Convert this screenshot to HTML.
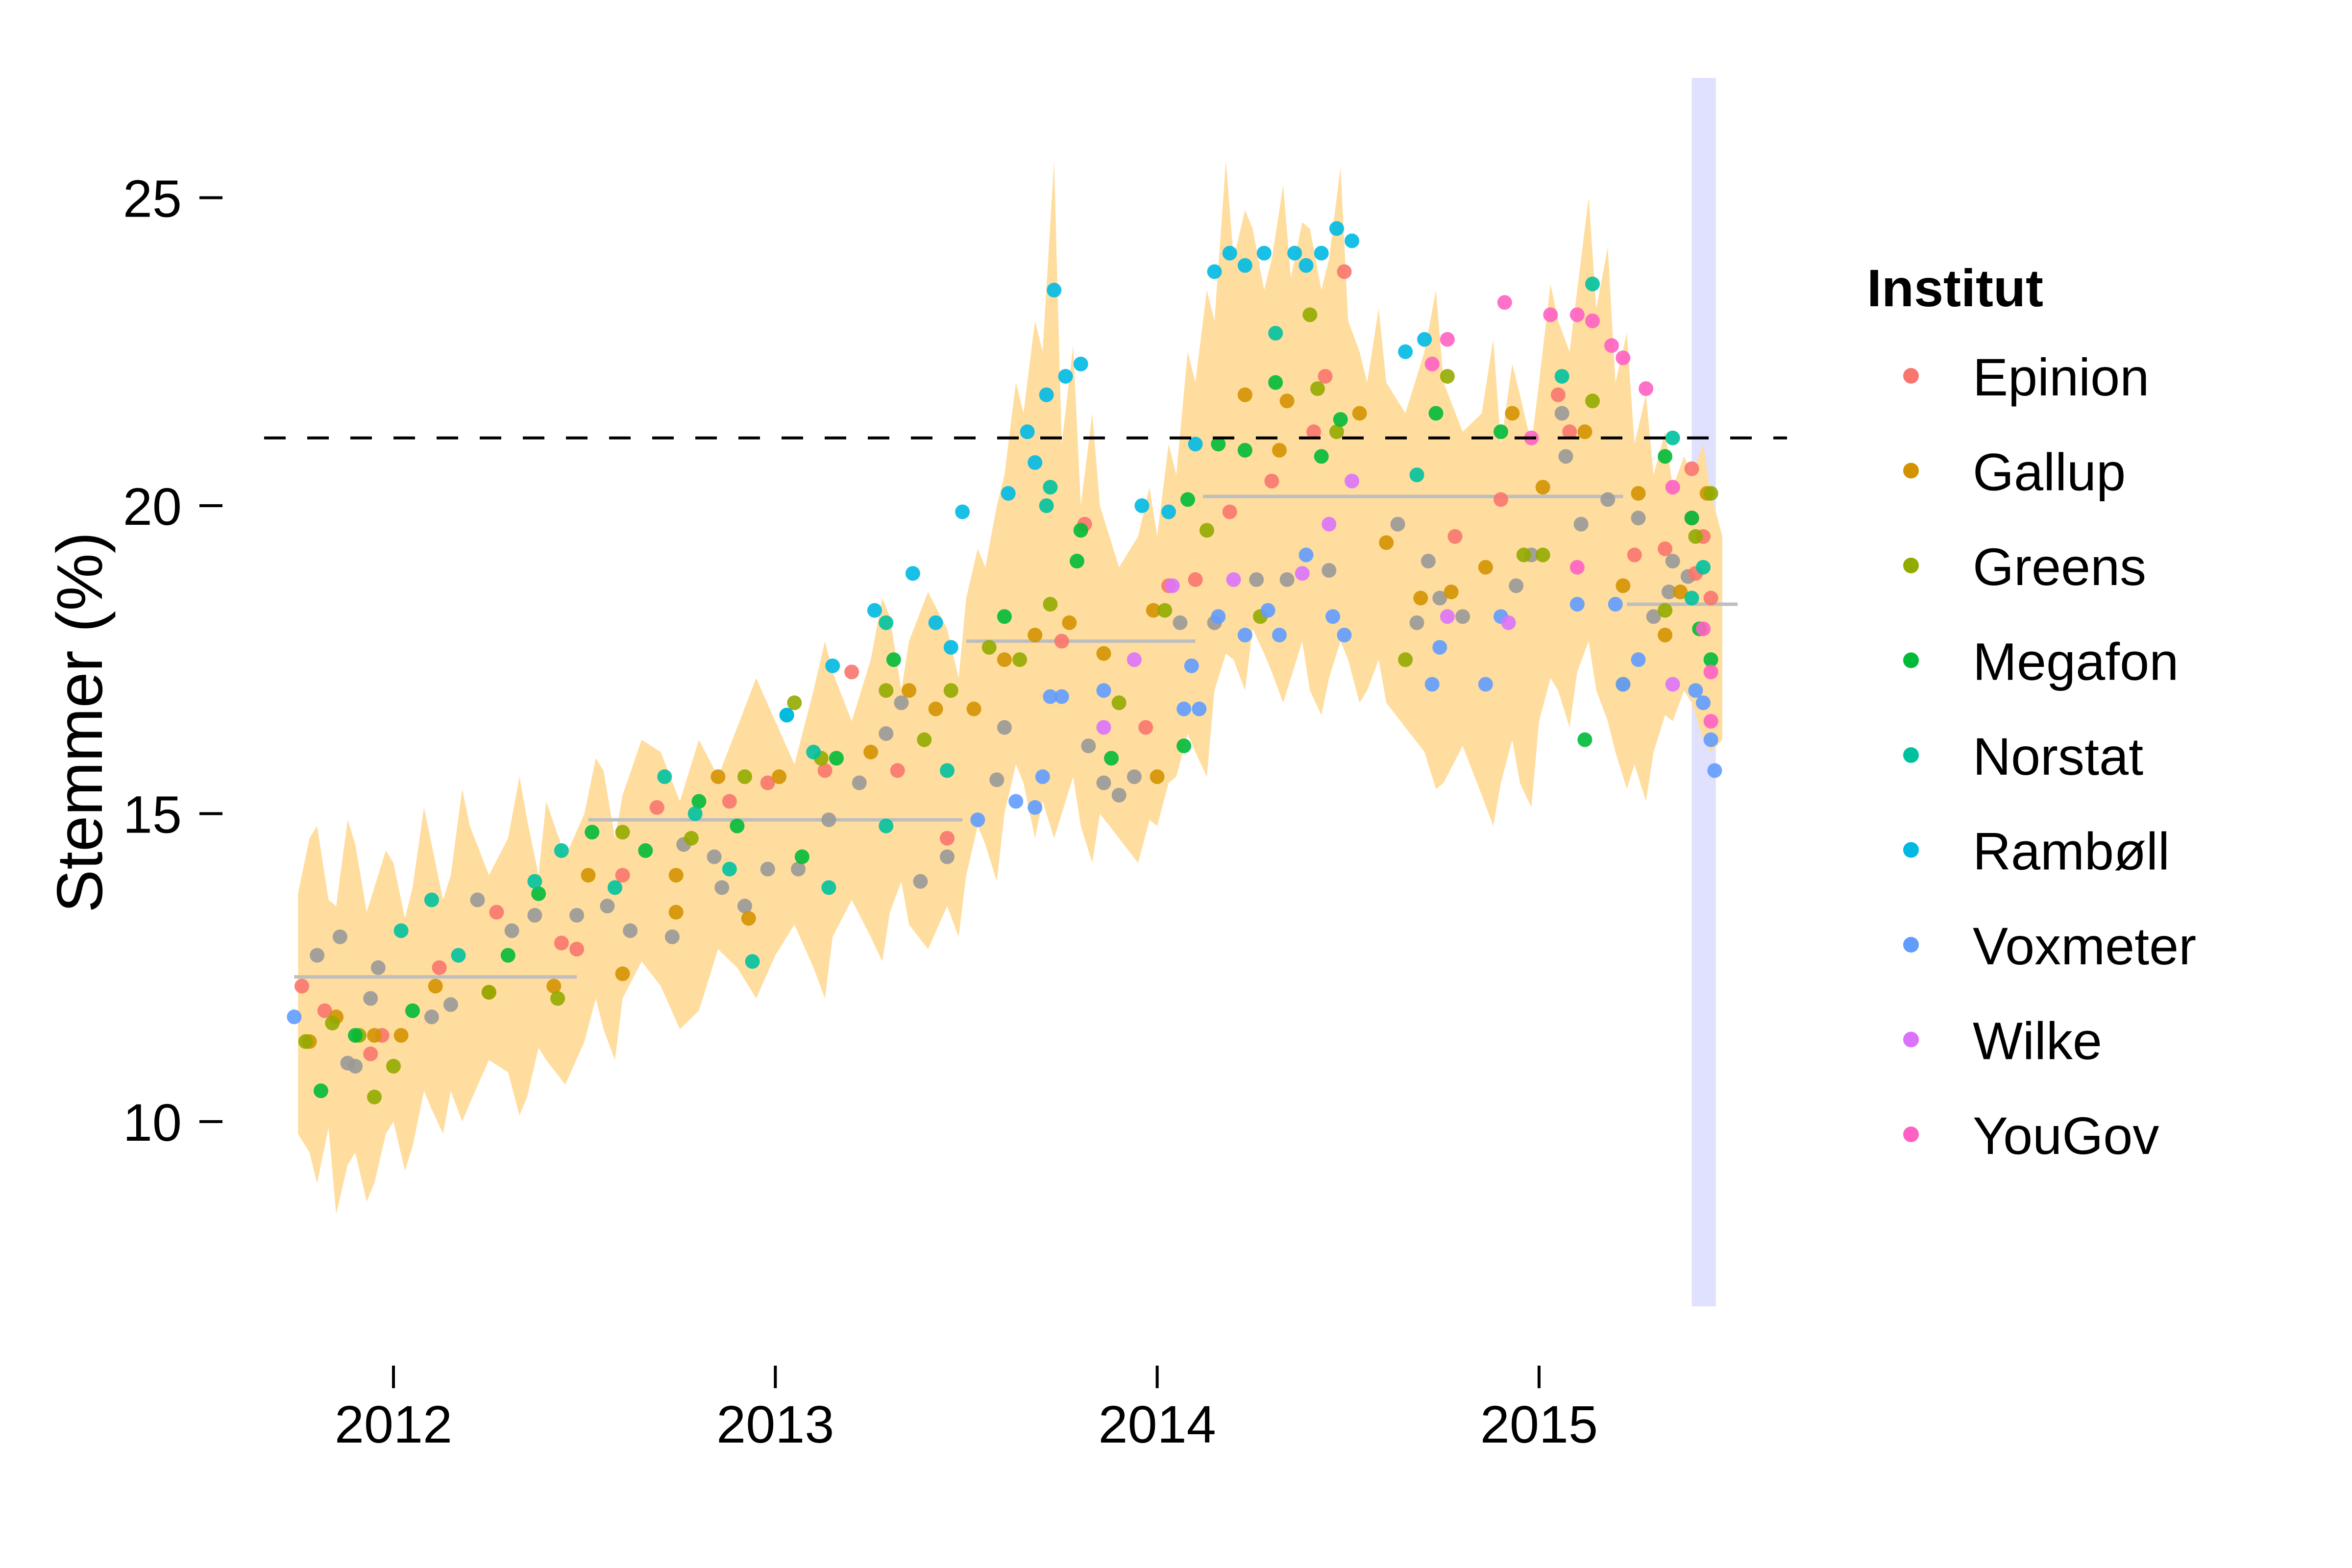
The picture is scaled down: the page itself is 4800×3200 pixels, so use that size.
<!DOCTYPE html>
<html><head><meta charset="utf-8"><style>
html,body{margin:0;padding:0;background:#fff}
svg{display:block;font-family:"Liberation Sans",Arial,sans-serif}
</style></head><body>
<svg id="chart" width="4800" height="3200" viewBox="0 0 4800 3200">
<rect width="4800" height="3200" fill="#fff"/>
<g id="gBand"></g><g id="gRibbon"></g><g id="gSeg"></g><g id="gPts"></g><g id="gRef"></g><g id="gAxes"></g><g id="gLegend"></g>
</svg>
<script>
const ribbonYears=[2011.75,2011.78,2011.8,2011.83,2011.85,2011.88,2011.9,2011.93,2011.95,2011.98,2012.0,2012.03,2012.05,2012.08,2012.1,2012.13,2012.15,2012.18,2012.2,2012.25,2012.3,2012.33,2012.35,2012.38,2012.4,2012.45,2012.5,2012.53,2012.55,2012.58,2012.6,2012.65,2012.7,2012.75,2012.8,2012.85,2012.9,2012.95,2013.0,2013.05,2013.1,2013.13,2013.15,2013.2,2013.25,2013.28,2013.3,2013.33,2013.35,2013.4,2013.45,2013.48,2013.5,2013.53,2013.55,2013.58,2013.6,2013.63,2013.65,2013.68,2013.7,2013.73,2013.75,2013.78,2013.8,2013.83,2013.85,2013.9,2013.95,2013.98,2014.0,2014.03,2014.05,2014.08,2014.1,2014.13,2014.15,2014.18,2014.2,2014.23,2014.25,2014.28,2014.3,2014.33,2014.35,2014.38,2014.4,2014.43,2014.45,2014.48,2014.5,2014.53,2014.55,2014.58,2014.6,2014.65,2014.7,2014.73,2014.75,2014.8,2014.85,2014.88,2014.9,2014.93,2014.95,2014.98,2015.0,2015.03,2015.05,2015.08,2015.1,2015.13,2015.15,2015.18,2015.2,2015.23,2015.25,2015.28,2015.3,2015.33,2015.35,2015.38,2015.4,2015.43,2015.45,2015.48];
const ribbonUpper=[13.7,14.6,14.8,13.6,13.5,14.9,14.5,13.4,13.8,14.4,14.2,13.3,13.8,15.1,14.5,13.6,14.0,15.4,14.8,14.0,14.6,15.6,14.9,14.0,15.2,14.3,15.0,15.9,15.7,14.6,15.3,16.2,16.0,15.2,16.2,15.6,16.4,17.2,16.5,15.8,17.0,17.8,17.3,16.5,17.5,18.5,18.2,17.0,17.8,18.6,18.0,17.2,18.5,19.3,19.0,20.0,20.5,22.0,21.5,23.0,22.5,25.6,21.0,22.6,20.0,21.5,20.0,19.0,19.5,20.3,19.5,21.0,20.5,22.5,22.0,23.5,23.0,25.6,24.0,24.8,24.5,23.5,24.0,25.2,23.7,24.6,24.5,23.5,24.0,25.5,23.0,22.5,22.0,23.2,22.0,21.5,22.5,23.5,22.0,21.2,21.5,22.7,21.0,22.3,21.8,21.0,22.0,23.6,23.0,22.5,23.5,25.0,23.2,24.2,22.0,22.8,21.0,21.8,20.5,21.2,20.3,20.8,20.5,21.0,20.2,19.5];
const ribbonLower=[9.8,9.5,9.0,9.9,8.5,9.3,9.5,8.7,9.0,9.8,10.0,9.2,9.6,10.5,10.2,9.8,10.5,10.0,10.3,11.0,10.8,10.1,10.4,11.2,11.0,10.6,11.3,12.0,11.5,11.0,12.0,12.6,12.2,11.5,11.8,12.8,12.5,12.0,12.7,13.2,12.5,12.0,13.0,13.6,13.0,12.6,13.4,13.9,13.2,12.8,13.5,13.0,14.0,14.8,14.5,13.9,15.0,15.8,15.5,14.6,15.2,14.6,15.0,15.6,14.8,14.2,15.0,14.6,14.2,14.9,14.8,15.5,15.6,16.3,16.0,15.6,17.0,17.6,17.5,17.0,18.0,17.6,17.3,16.8,17.2,17.8,17.0,16.6,17.2,17.8,17.5,16.8,17.0,17.5,16.8,16.4,16.0,15.4,15.5,16.1,15.3,14.8,15.5,16.2,15.5,15.1,16.5,17.2,17.0,16.4,17.3,17.8,17.0,16.5,16.0,15.4,15.8,15.2,16.0,16.6,16.5,17.0,16.8,16.2,16.0,16.2];
const segStart=[2011.74,2012.51,2013.5,2014.12,2015.23];
const segEnd=[2012.48,2013.49,2014.1,2015.22,2015.52];
const segValue=[12.35,14.9,17.8,20.15,18.4];
const refValue=21.1;
const bandStart=2015.40;
const bandEnd=2015.463;
const yTicks=[10,15,20,25];
const xTicks=[2012,2013,2014,2015];
const institutes=["Epinion","Gallup","Greens","Megafon","Norstat","Rambøll","Voxmeter","Wilke","YouGov"];
const colors=["#F8766D","#D39200","#93AA00","#00BA38","#00C19F","#00B9E3","#619CFF","#DB72FB","#FF61C3"];
const epinionX=[2011.76,2011.82,2011.94,2011.97,2012.12,2012.27,2012.44,2012.48,2012.60,2012.69,2012.88,2012.98,2013.13,2013.20,2013.32,2013.45,2013.75,2013.81,2013.97,2014.03,2014.10,2014.19,2014.30,2014.41,2014.44,2014.49,2014.78,2014.90,2015.05,2015.08,2015.25,2015.33,2015.40,2015.41,2015.40,2015.43,2015.45];
const epinionY=[12.2,11.8,11.1,11.4,12.5,13.4,12.9,12.8,14.0,15.1,15.2,15.5,15.7,17.3,15.7,14.6,17.8,19.7,16.4,18.7,18.8,19.9,20.4,21.2,22.1,23.8,19.5,20.1,21.8,21.2,19.2,19.3,20.6,18.9,19.8,19.5,18.5];
const gallupX=[2011.78,2011.85,2011.95,2012.02,2012.11,2012.25,2012.42,2012.51,2012.60,2012.74,2012.85,2012.74,2012.93,2013.01,2013.25,2013.35,2013.42,2013.52,2013.60,2013.68,2013.77,2013.86,2014.00,2013.99,2014.23,2014.32,2014.34,2014.53,2014.60,2014.69,2014.77,2014.86,2014.93,2015.01,2015.12,2015.22,2015.26,2015.33,2015.37,2015.44];
const gallupY=[11.3,11.7,11.4,11.4,12.2,12.1,12.2,14.0,12.4,14.0,15.6,13.4,13.3,15.6,16.0,17.0,16.7,16.7,17.5,17.9,18.1,17.6,15.6,18.3,21.8,20.9,21.7,21.5,19.4,18.5,18.6,19.0,21.5,20.3,21.2,18.7,20.2,17.9,18.6,20.2];
const greensX=[2011.77,2011.84,2011.91,2011.95,2012.0,2012.25,2012.43,2012.60,2012.78,2012.92,2013.05,2013.12,2013.29,2013.39,2013.46,2013.56,2013.64,2013.72,2013.90,2014.02,2014.13,2014.27,2014.40,2014.42,2014.47,2014.65,2014.76,2014.96,2015.01,2015.14,2015.22,2015.33,2015.45,2015.41];
const greensY=[11.3,11.6,11.4,10.4,10.9,12.1,12.0,14.7,14.6,15.6,16.8,15.9,17.0,16.2,17.0,17.7,17.5,18.4,16.8,18.3,19.6,18.2,23.1,21.9,21.2,17.5,22.1,19.2,19.2,21.7,17.1,18.3,20.2,19.5];
const megafonX=[2011.81,2011.90,2012.05,2012.30,2012.38,2012.52,2012.66,2012.80,2012.90,2013.07,2013.16,2013.31,2013.60,2013.79,2013.80,2013.88,2014.07,2014.08,2014.16,2014.23,2014.31,2014.43,2014.48,2014.73,2014.90,2015.12,2015.33,2015.40,2015.42,2015.45];
const megafonY=[10.5,11.4,11.8,12.7,13.7,14.7,14.4,15.2,14.8,14.3,15.9,17.5,18.2,19.1,19.6,15.9,16.1,20.1,21.0,20.9,22.0,20.8,21.4,21.5,21.2,16.2,20.8,19.8,18.0,17.5];
const norstatX=[2012.02,2012.10,2012.17,2012.44,2012.37,2012.58,2012.71,2012.79,2012.88,2012.94,2013.03,2013.10,2013.14,2013.29,2013.29,2013.45,2013.71,2013.72,2014.31,2014.68,2015.06,2015.14,2015.35,2015.43,2015.40];
const norstatY=[13.1,13.6,12.7,14.4,13.9,13.8,15.6,15.0,14.1,12.6,16.6,16.0,13.8,18.1,14.8,15.7,20.0,20.3,22.8,20.5,22.1,23.6,21.1,19.0,18.5];
const ramboellX=[2013.66,2013.68,2013.71,2013.73,2013.76,2013.80,2013.49,2013.36,2013.42,2013.46,2013.26,2013.15,2013.03,2013.61,2013.96,2014.03,2014.10,2014.15,2014.19,2014.23,2014.28,2014.36,2014.39,2014.43,2014.47,2014.51,2014.65,2014.70];
const ramboellY=[21.2,20.7,21.8,23.5,22.1,22.3,19.9,18.9,18.1,17.7,18.3,17.4,16.6,20.2,20.0,19.9,21.0,23.8,24.1,23.9,24.1,24.1,23.9,24.1,24.5,24.3,22.5,22.7];
const voxmeterX=[2011.74,2013.53,2013.63,2013.68,2013.70,2013.72,2013.75,2013.86,2014.09,2014.07,2014.11,2014.16,2014.23,2014.29,2014.32,2014.39,2014.46,2014.49,2014.72,2014.74,2014.86,2014.90,2015.10,2015.20,2015.22,2015.26,2015.41,2015.45,2015.46,2015.43];
const voxmeterY=[11.7,14.9,15.2,15.1,15.6,16.9,16.9,17.0,17.4,16.7,16.7,18.2,17.9,18.3,17.9,19.2,18.2,17.9,17.1,17.7,17.1,18.2,18.4,18.4,17.1,17.5,17.0,16.2,15.7,16.8];
const wilkeX=[2014.38,2014.20,2014.45,2014.51,2014.76,2014.92,2015.35,2013.86,2013.94,2014.04];
const wilkeY=[18.9,18.8,19.7,20.4,18.2,18.1,17.1,16.4,17.5,18.7];
const yougovX=[2014.91,2015.03,2015.10,2015.14,2015.19,2015.22,2015.28,2014.76,2014.72,2015.35,2014.98,2015.10,2015.43,2015.45,2015.45];
const yougovY=[23.3,23.1,23.1,23.0,22.6,22.4,21.9,22.7,22.3,20.3,21.1,19.0,18.0,17.3,16.5];
const otherX=[2011.80,2011.86,2011.88,2011.90,2011.94,2011.96,2012.10,2012.15,2012.22,2012.31,2012.37,2012.48,2012.56,2012.62,2012.73,2012.76,2012.84,2012.86,2012.92,2012.98,2013.06,2013.14,2013.22,2013.29,2013.33,2013.38,2013.45,2013.60,2013.58,2013.82,2013.86,2013.90,2013.94,2014.06,2014.15,2014.26,2014.34,2014.45,2014.63,2014.71,2014.68,2014.74,2014.80,2014.94,2014.98,2015.06,2015.07,2015.11,2015.18,2015.26,2015.30,2015.34,2015.35,2015.39];
const otherY=[12.7,13.0,10.95,10.9,12.0,12.5,11.7,11.9,13.6,13.1,13.35,13.35,13.5,13.1,13.0,14.5,14.3,13.8,13.5,14.1,14.1,14.9,15.5,16.3,16.8,13.9,14.3,16.4,15.55,16.1,15.5,15.3,15.6,18.1,18.1,18.8,18.8,18.95,19.7,19.1,18.1,18.5,18.2,18.7,19.2,21.5,20.8,19.7,20.1,19.8,18.2,18.6,19.1,18.85];

const NS="http://www.w3.org/2000/svg";
function X(yr){return 803+(yr-2012)*779.3;}
function Y(v){return 1032-(v-20)*125.7;}
function mk(tag,attrs,parent){const e=document.createElementNS(NS,tag);for(const k in attrs)e.setAttribute(k,attrs[k]);parent.appendChild(e);return e;}
const g=id=>document.getElementById(id);

const band=mk('rect',{x:X(bandStart),y:159,width:X(bandEnd)-X(bandStart),height:2507,fill:'#E0E0FF'},g('gBand'));



let d='';
ribbonYears.forEach((yr,i)=>{d+=(i?'L':'M')+X(yr).toFixed(1)+','+Y(ribbonUpper[i]).toFixed(1);});
for(let i=ribbonYears.length-1;i>=0;i--){d+='L'+X(ribbonYears[i]).toFixed(1)+','+Y(ribbonLower[i]).toFixed(1);}
const rib=mk('path',{d:d+'Z',fill:'#FFDD9E'},g('gRibbon'));



segValue.forEach((v,i)=>{
  const s=mk('line',{x1:X(segStart[i]),x2:X(segEnd[i]),y1:Y(v),y2:Y(v),stroke:'#BEBEBE','stroke-width':7},g('gSeg'));
  
  
});

function drawPts(xs,ys,col,name){
  xs.forEach((xv,i)=>{
    const c=mk('circle',{cx:X(xv),cy:Y(ys[i]),r:15,fill:col,'fill-opacity':0.9},g('gPts'));
    
    
  });
}
drawPts(otherX,otherY,'#999999','other');
drawPts(epinionX,epinionY,colors[0],'epinion');
drawPts(gallupX,gallupY,colors[1],'gallup');
drawPts(greensX,greensY,colors[2],'greens');
drawPts(megafonX,megafonY,colors[3],'megafon');
drawPts(norstatX,norstatY,colors[4],'norstat');
drawPts(ramboellX,ramboellY,colors[5],'ramboell');
drawPts(voxmeterX,voxmeterY,colors[6],'voxmeter');
drawPts(wilkeX,wilkeY,colors[7],'wilke');
drawPts(yougovX,yougovY,colors[8],'yougov');

const ref=mk('line',{x1:539,x2:3647,y1:Y(refValue),y2:Y(refValue),stroke:'#000','stroke-width':6,'stroke-dasharray':'44 44'},g('gRef'));



yTicks.forEach(v=>{
  const t=mk('line',{x1:407,x2:454,y1:Y(v),y2:Y(v),stroke:'#000','stroke-width':6},g('gAxes'));
  
  
  const l=mk('text',{x:371,y:Y(v)+39,'text-anchor':'end','font-size':108,fill:'#000'},g('gAxes'));
  l.textContent=v;
  
  
});
xTicks.forEach(v=>{
  const t=mk('line',{x1:X(v),x2:X(v),y1:2787,y2:2833,stroke:'#000','stroke-width':6},g('gAxes'));
  
  
  const l=mk('text',{x:X(v),y:2944,'text-anchor':'middle','font-size':108,fill:'#000'},g('gAxes'));
  l.textContent=v;
  
  
});
const yt=mk('text',{x:0,y:0,transform:'translate(208,1474) rotate(-90)','text-anchor':'middle','font-size':132,fill:'#000'},g('gAxes'));
yt.textContent='Stemmer (%)';



const lt=mk('text',{x:3810,y:625,'font-size':108,'font-weight':'bold',fill:'#000'},g('gLegend'));
lt.textContent='Institut';


institutes.forEach((n,i)=>{
  const cy=767+i*193.5;
  const c=mk('circle',{cx:3900,cy:cy,r:16,fill:colors[i]},g('gLegend'));
  
  
  const t=mk('text',{x:4026,y:cy+40,'font-size':108,fill:'#000'},g('gLegend'));
  t.textContent=n;
  
  
});
</script>
</body></html>
